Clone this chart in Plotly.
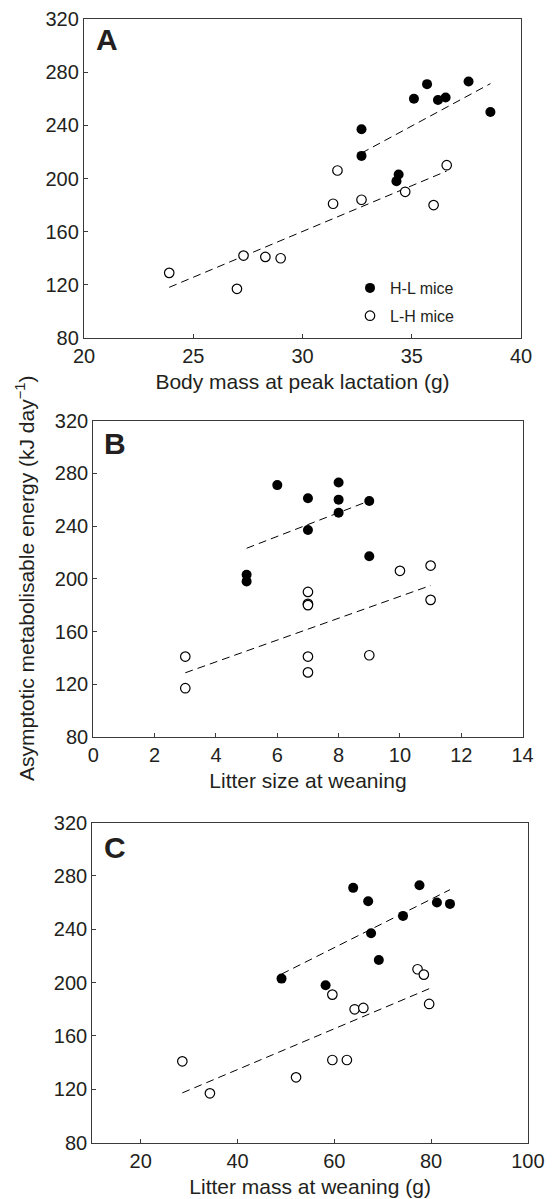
import numpy as np
import plotly.graph_objects as go

# Asymptotic metabolisable energy (kJ/day) per mouse, H-L and L-H groups
hl_energy = [203, 198, 271, 261, 237, 217, 250, 273, 260, 259]

# Panel A: body mass at peak lactation (g)
hl_mass = [34.4, 34.3, 35.7, 36.55, 32.7, 32.7, 38.6, 37.6, 35.1, 36.2]
lh_mass = [23.9, 27.0, 27.3, 28.3, 29.0, 31.4, 31.6, 32.7, 34.7, 36.0, 36.6]
lh_energy_a = [129, 117, 142, 141, 140, 181, 206, 184, 190, 180, 210]

# Panel B: litter size at weaning
hl_size = [5, 5, 6, 7, 7, 9, 8, 8, 8, 9]
lh_size = [3, 3, 7, 7, 7, 7, 7, 9, 10, 11, 11]
lh_energy_b = [141, 117, 190, 181, 180, 141, 129, 142, 206, 210, 184]

# Panel C: litter mass at weaning (g)
hl_litter = [49.1, 58.2, 63.9, 67.0, 67.6, 69.2, 74.2, 77.6, 81.2, 83.9]
lh_litter = [28.6, 34.3, 52.1, 59.6, 59.6, 62.6, 64.2, 66.0, 77.2, 78.5, 79.6]
lh_energy_c = [141, 117, 129, 191, 142, 142, 180, 181, 210, 206, 184]

y_ticks = [80, 120, 160, 200, 240, 280, 320]
xa_ticks = [20, 25, 30, 35, 40]
xb_ticks = [0, 2, 4, 6, 8, 10, 12, 14]
xc_ticks = [20, 40, 60, 80, 100]

W, H = 556, 1199
FONT = "Liberation Sans, Arial, sans-serif"
INK = "#231f20"
AXC = "#3a3a3a"


def px_x(p):
    return p / W


def px_y(p):
    return 1 - p / H


fig = go.Figure()

panels = [
    ("x", "y", hl_mass, hl_energy, lh_mass, lh_energy_a, True),
    ("x2", "y2", hl_size, hl_energy, lh_size, lh_energy_b, False),
    ("x3", "y3", hl_litter, hl_energy, lh_litter, lh_energy_c, False),
]

for xa, ya, hx, hy, lx, ly, legend in panels:
    # least-squares regression line for each group
    for gx, gy in ((hx, hy), (lx, ly)):
        k, b = np.polyfit(gx, gy, 1)
        xs = np.array([min(gx), max(gx)])
        fig.add_trace(go.Scatter(
            x=xs, y=k * xs + b, mode="lines", xaxis=xa, yaxis=ya,
            line=dict(color="black", width=1, dash="8px,5px"),
            showlegend=False, hoverinfo="skip"))
    fig.add_trace(go.Scatter(
        x=hx, y=hy, mode="markers", xaxis=xa, yaxis=ya, name="H-L mice",
        legendgroup="hl", showlegend=legend,
        marker=dict(size=10, color="black", line=dict(width=0))))
    fig.add_trace(go.Scatter(
        x=lx, y=ly, mode="markers", xaxis=xa, yaxis=ya, name="L-H mice",
        legendgroup="lh", showlegend=legend,
        marker=dict(size=9.5, color="white", line=dict(width=1.2, color="black"))))

axis_common = dict(
    showline=True, mirror=True, linecolor=AXC, linewidth=1.3,
    ticks="inside", ticklen=4, tickwidth=1, tickcolor=AXC,
    showgrid=False, zeroline=False, automargin=False,
    tickfont=dict(family=FONT, size=20, color=INK),
    title_font=dict(family=FONT, size=21, color=INK),
)

fig.update_layout(
    width=W, height=H,
    margin=dict(l=0, r=0, t=0, b=0),
    paper_bgcolor="white", plot_bgcolor="white",
    font=dict(family=FONT, color=INK),
    xaxis=dict(axis_common, domain=[px_x(84), px_x(521)], range=[20, 40],
               tickvals=xa_ticks, anchor="y",
               title=dict(text="Body mass at peak lactation (g)", standoff=8)),
    yaxis=dict(axis_common, domain=[px_y(338), px_y(19)], range=[80, 320],
               tickvals=y_ticks, anchor="x"),
    xaxis2=dict(axis_common, domain=[px_x(93.3), px_x(522.6)], range=[0, 14],
                tickvals=xb_ticks, anchor="y2",
                title=dict(text="Litter size at weaning", standoff=8)),
    yaxis2=dict(axis_common, domain=[px_y(737), px_y(420.5)], range=[80, 320],
                tickvals=y_ticks, anchor="x2"),
    xaxis3=dict(axis_common, domain=[px_x(92.3), px_x(527.9)], range=[10, 100],
                tickvals=xc_ticks, anchor="y3",
                title=dict(text="Litter mass at weaning (g)", standoff=8)),
    yaxis3=dict(axis_common, domain=[px_y(1142.7), px_y(822.5)], range=[80, 320],
                tickvals=y_ticks, anchor="x3"),
    legend=dict(
        x=px_x(350), y=px_y(271), xanchor="left", yanchor="top",
        font=dict(family=FONT, size=16, color=INK),
        traceorder="grouped", tracegroupgap=4,
        bgcolor="rgba(0,0,0,0)", borderwidth=0,
    ),
    showlegend=True,
)

# panel letters
for letter, lx, ly in (("A", 94, 40), ("B", 102, 444), ("C", 102, 847)):
    fig.add_annotation(
        text=f"<b>{letter}</b>", xref="paper", yref="paper",
        x=px_x(lx), y=px_y(ly), xanchor="left", yanchor="middle",
        showarrow=False, font=dict(family=FONT, size=30, color=INK))

# shared y-axis title
fig.add_annotation(
    text="Asymptotic metabolisable energy (kJ day<sup>\u22121</sup>)",
    xref="paper", yref="paper", x=px_x(25), y=px_y(579),
    xanchor="center", yanchor="middle", textangle=-90, showarrow=False,
    font=dict(family=FONT, size=21, color=INK))

fig.write_html("out.html")
